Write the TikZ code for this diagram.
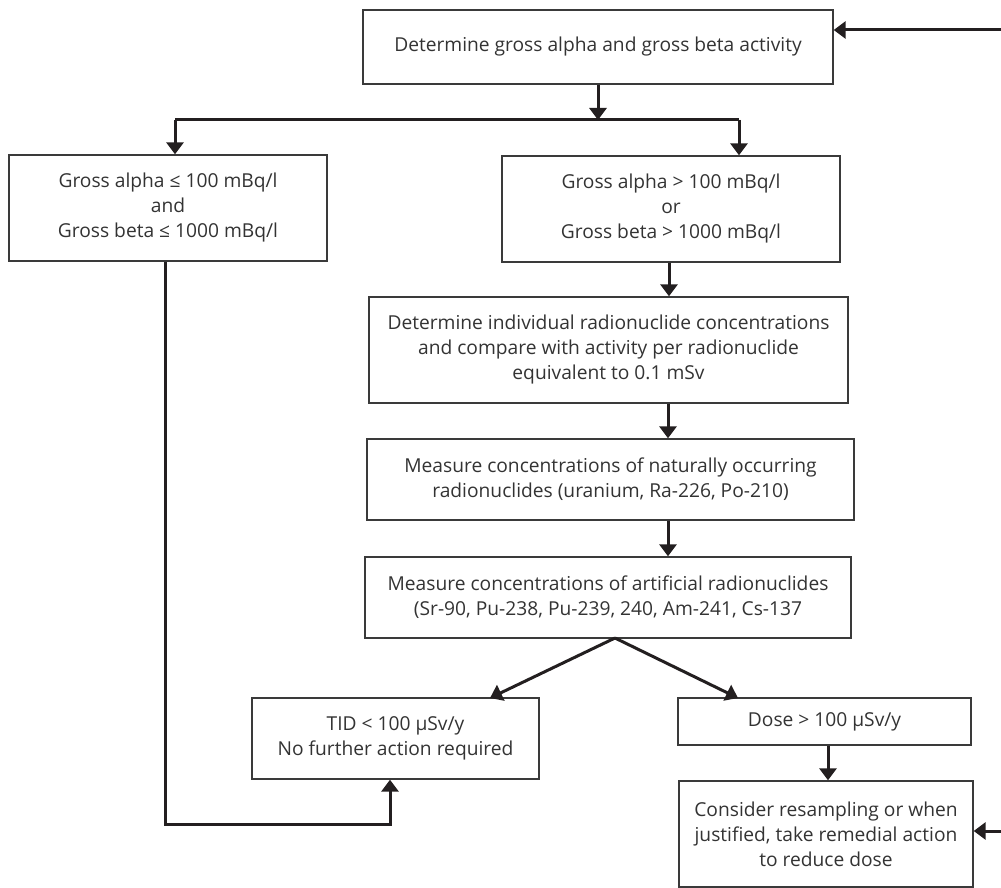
\documentclass[tikz,border=0pt]{standalone}
\usepackage{fontspec}
\setmainfont{Open Sans}
\usetikzlibrary{arrows.meta}
\definecolor{boxline}{HTML}{3A3A3A}
\definecolor{conn}{HTML}{231F20}
\definecolor{txt}{HTML}{333333}
\tikzset{
  flowbox/.style={draw=boxline, line width=1.4pt, rectangle, inner sep=0pt, align=center,
    text=txt, font=\fontsize{19.2}{25}\selectfont},
  conline/.style={draw=conn, line width=3pt},
  arr/.style={conline, -{Triangle[width=17pt,length=12pt]}, shorten >=0pt},
}
\begin{document}
\begin{tikzpicture}[x=1pt,y=-1pt]
\useasboundingbox (0,0) rectangle (1001,888);
\node[flowbox, minimum width=470pt, minimum height=74pt] (top) at (598,47) {Determine gross alpha and gross beta activity};
\node[flowbox, minimum width=318pt, minimum height=106pt] (low) at (168,208) {Gross alpha ≤ 100 mBq/l\\and\\Gross beta ≤ 1000 mBq/l};
\node[flowbox, minimum width=338pt, minimum height=106pt] (high) at (671,209) {Gross alpha > 100 mBq/l\\or\\Gross beta > 1000 mBq/l};
\node[flowbox, minimum width=479pt, minimum height=106pt] (indiv) at (608.5,350) {Determine individual radionuclide concentrations\\and compare with activity per radionuclide\\equivalent to 0.1 mSv};
\node[flowbox, minimum width=487pt, minimum height=81pt] (natural) at (610.5,479.5) {Measure concentrations of naturally occurring\\radionuclides (uranium, Ra-226, Po-210)};
\node[flowbox, minimum width=486pt, minimum height=81pt] (artif) at (608,597.5) {Measure concentrations of artificial radionuclides\\(Sr-90, Pu-238, Pu-239, 240, Am-241, Cs-137};
\node[flowbox, minimum width=287pt, minimum height=81pt] (tid) at (395.5,738.5) {TID < 100 µSv/y\\No further action required};
\node[flowbox, minimum width=293pt, minimum height=47pt] (dose) at (824.5,721.5) {Dose > 100 µSv/y};
\node[flowbox, minimum width=294pt, minimum height=106pt] (cons) at (826,834) {Consider resampling or when\\justified, take remedial action\\to reduce dose};

\coordinate (j) at (598,120);
\coordinate (jl) at (175,120);
\coordinate (jr) at (739,120);
\coordinate (split) at (615,638);
\coordinate (ldown) at (165,824);
\coordinate (lright) at (390,824);
\coordinate (fbtop) at (1001,30);
\coordinate (fbbot) at (1001,831);
\coordinate (tidin) at (490,698);
\coordinate (dosein) at (738,698);

\draw[arr] (top.south) -- (j);
\draw[conline] (jl) -- (jr);
\draw[arr] (jl) -- (jl |- low.north);
\draw[arr] (jr) -- (jr |- high.north);
\draw[arr] (high.south -| 669,0) -- (indiv.north -| 669,0);
\draw[arr] (indiv.south -| 668,0) -- (natural.north -| 668,0);
\draw[arr] (natural.south -| 668,0) -- (artif.north -| 668,0);
\draw[arr] (split) -- (tidin);
\draw[arr] (split) -- (dosein);
\draw[arr] (dose.south -| 828,0) -- (cons.north -| 828,0);
\draw[arr] (low.south -| ldown) -- (ldown) -- (lright) -- (lright |- tid.south);
\draw[arr] (fbtop) -- (fbtop -| top.east);
\draw[arr] (fbbot) -- (fbbot -| cons.east);
\end{tikzpicture}
\end{document}
